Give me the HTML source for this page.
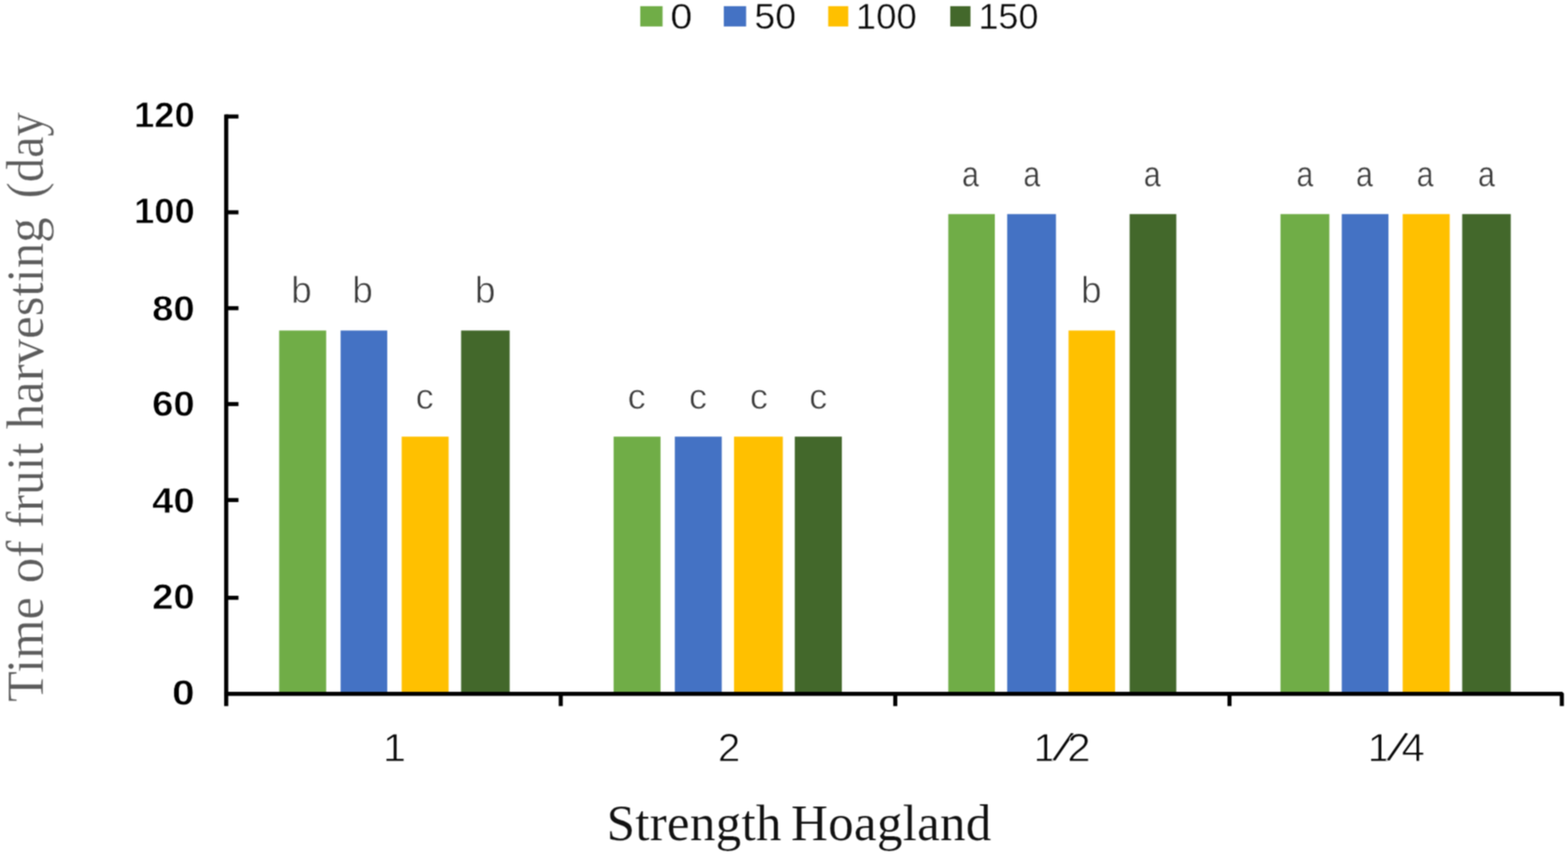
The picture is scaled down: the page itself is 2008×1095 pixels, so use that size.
<!DOCTYPE html>
<html lang="en"><head><meta charset="utf-8"><title>Time of fruit harvesting</title>
<style>html,body{margin:0;padding:0;background:#fff;}body{width:2008px;height:1095px;overflow:hidden;position:relative;}svg{position:absolute;left:0;top:0;display:block;}text{white-space:pre;}</style></head><body>
<svg width="2008" height="1095" viewBox="0 0 2008 1095">
<defs><filter id="soft" x="0" y="0" width="2008" height="1095" filterUnits="userSpaceOnUse" color-interpolation-filters="sRGB"><feConvolveMatrix order="3" kernelMatrix="1 2 1 2 4 2 1 2 1" edgeMode="duplicate" preserveAlpha="true"/></filter></defs>
<g filter="url(#soft)">
<rect width="2008" height="1095" fill="#fff"/>
<g id="legend">
<rect x="819.9" y="7.9" width="28.6" height="26" fill="#70AD47"/>
<rect x="926.9" y="7.9" width="28.6" height="26" fill="#4472C4"/>
<rect x="1060.6" y="7.9" width="25.7" height="26" fill="#FFC000"/>
<rect x="1216.9" y="7.9" width="25.9" height="26" fill="#43682B"/>
<text id="leg-0" transform="translate(872.50 37.00) scale(1.1000 1.0000)" font-family='"Liberation Sans", sans-serif' font-size="45.9" stroke="#fff" stroke-width="0.5" paint-order="fill stroke" stroke-linejoin="round" fill="#0a0a0a" text-anchor="middle">0</text>
<text id="leg-1" transform="translate(992.75 37.00) scale(1.0500 1.0000)" font-family='"Liberation Sans", sans-serif' font-size="45.9" stroke="#fff" stroke-width="0.5" paint-order="fill stroke" stroke-linejoin="round" fill="#0a0a0a" text-anchor="middle">50</text>
<text id="leg-2" transform="translate(1135.05 37.00) scale(1.0200 1.0000)" font-family='"Liberation Sans", sans-serif' font-size="45.9" stroke="#fff" stroke-width="0.5" paint-order="fill stroke" stroke-linejoin="round" fill="#0a0a0a" text-anchor="middle">100</text>
<text id="leg-3" transform="translate(1291.35 37.00) scale(1.0050 1.0000)" font-family='"Liberation Sans", sans-serif' font-size="45.9" stroke="#fff" stroke-width="0.5" paint-order="fill stroke" stroke-linejoin="round" fill="#0a0a0a" text-anchor="middle">150</text>
</g>
<g id="bars">
<rect x="357.5" y="423.3" width="60.2" height="463.7" fill="#70AD47"/>
<rect x="436.2" y="423.3" width="59.7" height="463.7" fill="#4472C4"/>
<rect x="514.4" y="559.2" width="60.1" height="327.8" fill="#FFC000"/>
<rect x="590.5" y="423.3" width="62.2" height="463.7" fill="#43682B"/>
<rect x="785.8" y="559.2" width="60.1" height="327.8" fill="#70AD47"/>
<rect x="864.2" y="559.2" width="60.1" height="327.8" fill="#4472C4"/>
<rect x="940.0" y="559.2" width="62.5" height="327.8" fill="#FFC000"/>
<rect x="1017.8" y="559.2" width="60.3" height="327.8" fill="#43682B"/>
<rect x="1214.4" y="274.2" width="59.6" height="612.8" fill="#70AD47"/>
<rect x="1289.8" y="274.2" width="62.5" height="612.8" fill="#4472C4"/>
<rect x="1368.4" y="423.3" width="59.6" height="463.7" fill="#FFC000"/>
<rect x="1446.6" y="274.2" width="59.8" height="612.8" fill="#43682B"/>
<rect x="1639.8" y="274.2" width="62.6" height="612.8" fill="#70AD47"/>
<rect x="1718.3" y="274.2" width="59.8" height="612.8" fill="#4472C4"/>
<rect x="1796.3" y="274.2" width="60.2" height="612.8" fill="#FFC000"/>
<rect x="1872.5" y="274.2" width="62.2" height="612.8" fill="#43682B"/>
</g>
<g id="labels">
<text id="dlb-0" transform="translate(386.10 387.80) scale(1.0000 1.0000)" font-family='"Liberation Sans", sans-serif' font-size="47.75" stroke="#fff" stroke-width="0.9" paint-order="fill stroke" stroke-linejoin="round" fill="#3b3b3b" text-anchor="middle">b</text>
<text id="dlb-1" transform="translate(464.35 387.80) scale(1.0000 1.0000)" font-family='"Liberation Sans", sans-serif' font-size="47.75" stroke="#fff" stroke-width="0.9" paint-order="fill stroke" stroke-linejoin="round" fill="#3b3b3b" text-anchor="middle">b</text>
<text id="dlc-2" transform="translate(543.85 523.70) scale(1.0000 1.0000)" font-family='"Liberation Sans", sans-serif' font-size="46.55" stroke="#fff" stroke-width="0.8" paint-order="fill stroke" stroke-linejoin="round" fill="#3b3b3b" text-anchor="middle">c</text>
<text id="dlb-3" transform="translate(621.40 387.80) scale(1.0000 1.0000)" font-family='"Liberation Sans", sans-serif' font-size="47.75" stroke="#fff" stroke-width="0.9" paint-order="fill stroke" stroke-linejoin="round" fill="#3b3b3b" text-anchor="middle">b</text>
<text id="dlc-4" transform="translate(815.35 523.70) scale(1.0000 1.0000)" font-family='"Liberation Sans", sans-serif' font-size="46.55" stroke="#fff" stroke-width="0.8" paint-order="fill stroke" stroke-linejoin="round" fill="#3b3b3b" text-anchor="middle">c</text>
<text id="dlc-5" transform="translate(893.95 523.70) scale(1.0000 1.0000)" font-family='"Liberation Sans", sans-serif' font-size="46.55" stroke="#fff" stroke-width="0.8" paint-order="fill stroke" stroke-linejoin="round" fill="#3b3b3b" text-anchor="middle">c</text>
<text id="dlc-6" transform="translate(971.80 523.70) scale(1.0000 1.0000)" font-family='"Liberation Sans", sans-serif' font-size="46.55" stroke="#fff" stroke-width="0.8" paint-order="fill stroke" stroke-linejoin="round" fill="#3b3b3b" text-anchor="middle">c</text>
<text id="dlc-7" transform="translate(1048.00 523.70) scale(1.0000 1.0000)" font-family='"Liberation Sans", sans-serif' font-size="46.55" stroke="#fff" stroke-width="0.8" paint-order="fill stroke" stroke-linejoin="round" fill="#3b3b3b" text-anchor="middle">c</text>
<text id="dla-8" transform="translate(1242.90 238.70) scale(0.8400 1.0000)" font-family='"Liberation Sans", sans-serif' font-size="46.3" stroke="#fff" stroke-width="0.5" paint-order="fill stroke" stroke-linejoin="round" fill="#3b3b3b" text-anchor="middle">a</text>
<text id="dla-9" transform="translate(1321.40 238.70) scale(0.8400 1.0000)" font-family='"Liberation Sans", sans-serif' font-size="46.3" stroke="#fff" stroke-width="0.5" paint-order="fill stroke" stroke-linejoin="round" fill="#3b3b3b" text-anchor="middle">a</text>
<text id="dlb-10" transform="translate(1397.50 387.80) scale(1.0000 1.0000)" font-family='"Liberation Sans", sans-serif' font-size="47.75" stroke="#fff" stroke-width="0.9" paint-order="fill stroke" stroke-linejoin="round" fill="#3b3b3b" text-anchor="middle">b</text>
<text id="dla-11" transform="translate(1475.60 238.70) scale(0.8400 1.0000)" font-family='"Liberation Sans", sans-serif' font-size="46.3" stroke="#fff" stroke-width="0.5" paint-order="fill stroke" stroke-linejoin="round" fill="#3b3b3b" text-anchor="middle">a</text>
<text id="dla-12" transform="translate(1671.10 238.70) scale(0.8400 1.0000)" font-family='"Liberation Sans", sans-serif' font-size="46.3" stroke="#fff" stroke-width="0.5" paint-order="fill stroke" stroke-linejoin="round" fill="#3b3b3b" text-anchor="middle">a</text>
<text id="dla-13" transform="translate(1747.20 238.70) scale(0.8400 1.0000)" font-family='"Liberation Sans", sans-serif' font-size="46.3" stroke="#fff" stroke-width="0.5" paint-order="fill stroke" stroke-linejoin="round" fill="#3b3b3b" text-anchor="middle">a</text>
<text id="dla-14" transform="translate(1825.15 238.70) scale(0.8400 1.0000)" font-family='"Liberation Sans", sans-serif' font-size="46.3" stroke="#fff" stroke-width="0.5" paint-order="fill stroke" stroke-linejoin="round" fill="#3b3b3b" text-anchor="middle">a</text>
<text id="dla-15" transform="translate(1903.45 238.70) scale(0.8400 1.0000)" font-family='"Liberation Sans", sans-serif' font-size="46.3" stroke="#fff" stroke-width="0.5" paint-order="fill stroke" stroke-linejoin="round" fill="#3b3b3b" text-anchor="middle">a</text>
</g>
<g id="axes" fill="#000">
<rect x="287.05" y="146.6" width="5.3" height="757.7"/>
<path d="M287.05 885.95H2000.6L2002.7 888.0500000000001V904.3H1997.5V891.15H287.05Z"/>
<rect x="289" y="146.60" width="16.4" height="5.2"/>
<rect x="289" y="269.30" width="16.4" height="5.2"/>
<rect x="289" y="392.10" width="16.4" height="5.2"/>
<rect x="289" y="514.90" width="16.4" height="5.2"/>
<rect x="289" y="637.80" width="16.4" height="5.2"/>
<rect x="289" y="763.00" width="16.4" height="5.2"/>
<rect x="715.5" y="888" width="5.2" height="16.3"/>
<rect x="1143.9" y="888" width="5.2" height="16.3"/>
<rect x="1571.9" y="888" width="5.2" height="16.3"/>
</g>
<g id="ylabels">
<text id="yl-0" transform="translate(249.40 163.10) scale(1.0000 1.0000)" font-family='"Liberation Sans", sans-serif' font-size="46.6" font-weight="700" stroke="#fff" stroke-width="0.8" paint-order="fill stroke" stroke-linejoin="round" fill="#000000" text-anchor="end">120</text>
<text id="yl-1" transform="translate(249.40 286.30) scale(1.0000 1.0000)" font-family='"Liberation Sans", sans-serif' font-size="46.6" font-weight="700" stroke="#fff" stroke-width="0.8" paint-order="fill stroke" stroke-linejoin="round" fill="#000000" text-anchor="end">100</text>
<text id="yl-2" transform="translate(249.40 411.10) scale(1.0550 1.0000)" font-family='"Liberation Sans", sans-serif' font-size="46.6" font-weight="700" stroke="#fff" stroke-width="0.8" paint-order="fill stroke" stroke-linejoin="round" fill="#000000" text-anchor="end">80</text>
<text id="yl-3" transform="translate(249.40 533.30) scale(1.0550 1.0000)" font-family='"Liberation Sans", sans-serif' font-size="46.6" font-weight="700" stroke="#fff" stroke-width="0.8" paint-order="fill stroke" stroke-linejoin="round" fill="#000000" text-anchor="end">60</text>
<text id="yl-4" transform="translate(249.40 656.50) scale(1.0550 1.0000)" font-family='"Liberation Sans", sans-serif' font-size="46.6" font-weight="700" stroke="#fff" stroke-width="0.8" paint-order="fill stroke" stroke-linejoin="round" fill="#000000" text-anchor="end">40</text>
<text id="yl-5" transform="translate(249.40 779.50) scale(1.0550 1.0000)" font-family='"Liberation Sans", sans-serif' font-size="46.6" font-weight="700" stroke="#fff" stroke-width="0.8" paint-order="fill stroke" stroke-linejoin="round" fill="#000000" text-anchor="end">20</text>
<text id="yl-6" transform="translate(249.40 902.50) scale(1.1200 1.0000)" font-family='"Liberation Sans", sans-serif' font-size="46.6" font-weight="700" stroke="#fff" stroke-width="0.8" paint-order="fill stroke" stroke-linejoin="round" fill="#000000" text-anchor="end">0</text>
</g>
<g id="xlabels">
<text id="xl-0" transform="translate(505.00 974.90) scale(1.0800 1.0000)" font-family='"Liberation Sans", sans-serif' font-size="49.4" stroke="#fff" stroke-width="0.9" paint-order="fill stroke" stroke-linejoin="round" fill="#0a0a0a" text-anchor="middle">1</text>
<text id="xl-1" transform="translate(933.60 974.90) scale(1.0500 1.0000)" font-family='"Liberation Sans", sans-serif' font-size="49.4" stroke="#fff" stroke-width="0.9" paint-order="fill stroke" stroke-linejoin="round" fill="#0a0a0a" text-anchor="middle">2</text>
<text id="xl-2" transform="translate(1360.00 974.90) scale(1.0900 1.0000)" font-family='"Liberation Sans", sans-serif' font-size="49.4" stroke="#fff" stroke-width="0.9" paint-order="fill stroke" stroke-linejoin="round" fill="#0a0a0a" text-anchor="middle">1<tspan rotate="17" dx="-5.5" dy="-2.0" font-size="55">/</tspan><tspan dx="2.5" dy="2.0">2</tspan></text>
<text id="xl-3" transform="translate(1788.00 974.90) scale(1.0900 1.0000)" font-family='"Liberation Sans", sans-serif' font-size="49.4" stroke="#fff" stroke-width="0.9" paint-order="fill stroke" stroke-linejoin="round" fill="#0a0a0a" text-anchor="middle">1<tspan rotate="17" dx="-5.5" dy="-2.0" font-size="55">/</tspan><tspan dx="2.5" dy="2.0">4</tspan></text>
</g>
<text id="xtitle" transform="translate(1023.30 1075.90) scale(1.0000 1.0000)" font-family='"Liberation Serif", serif' font-size="65.5" stroke="#fff" stroke-width="0.2" paint-order="fill stroke" stroke-linejoin="round" letter-spacing="0.27" word-spacing="-4.6" fill="#111111" text-anchor="middle">Strength Hoagland</text>
<text id="ytitle" transform="translate(54.60 0.00) rotate(-90) scale(1.0000 1.0000)" font-family='"Liberation Serif", serif' font-size="67.7" stroke="#fff" stroke-width="0.4" paint-order="fill stroke" stroke-linejoin="round" fill="#5c5c5c" text-anchor="start"><tspan x="-899.00" textLength="134.07" lengthAdjust="spacingAndGlyphs">Time</tspan> <tspan x="-747.00" textLength="54.55" lengthAdjust="spacingAndGlyphs">of</tspan> <tspan x="-676.15" textLength="108.87" lengthAdjust="spacingAndGlyphs">fruit</tspan> <tspan x="-549.80" textLength="271.45" lengthAdjust="spacingAndGlyphs">harvesting</tspan> <tspan x="-254.10" textLength="110.50" lengthAdjust="spacingAndGlyphs">(day</tspan></text>
</g></svg></body></html>
